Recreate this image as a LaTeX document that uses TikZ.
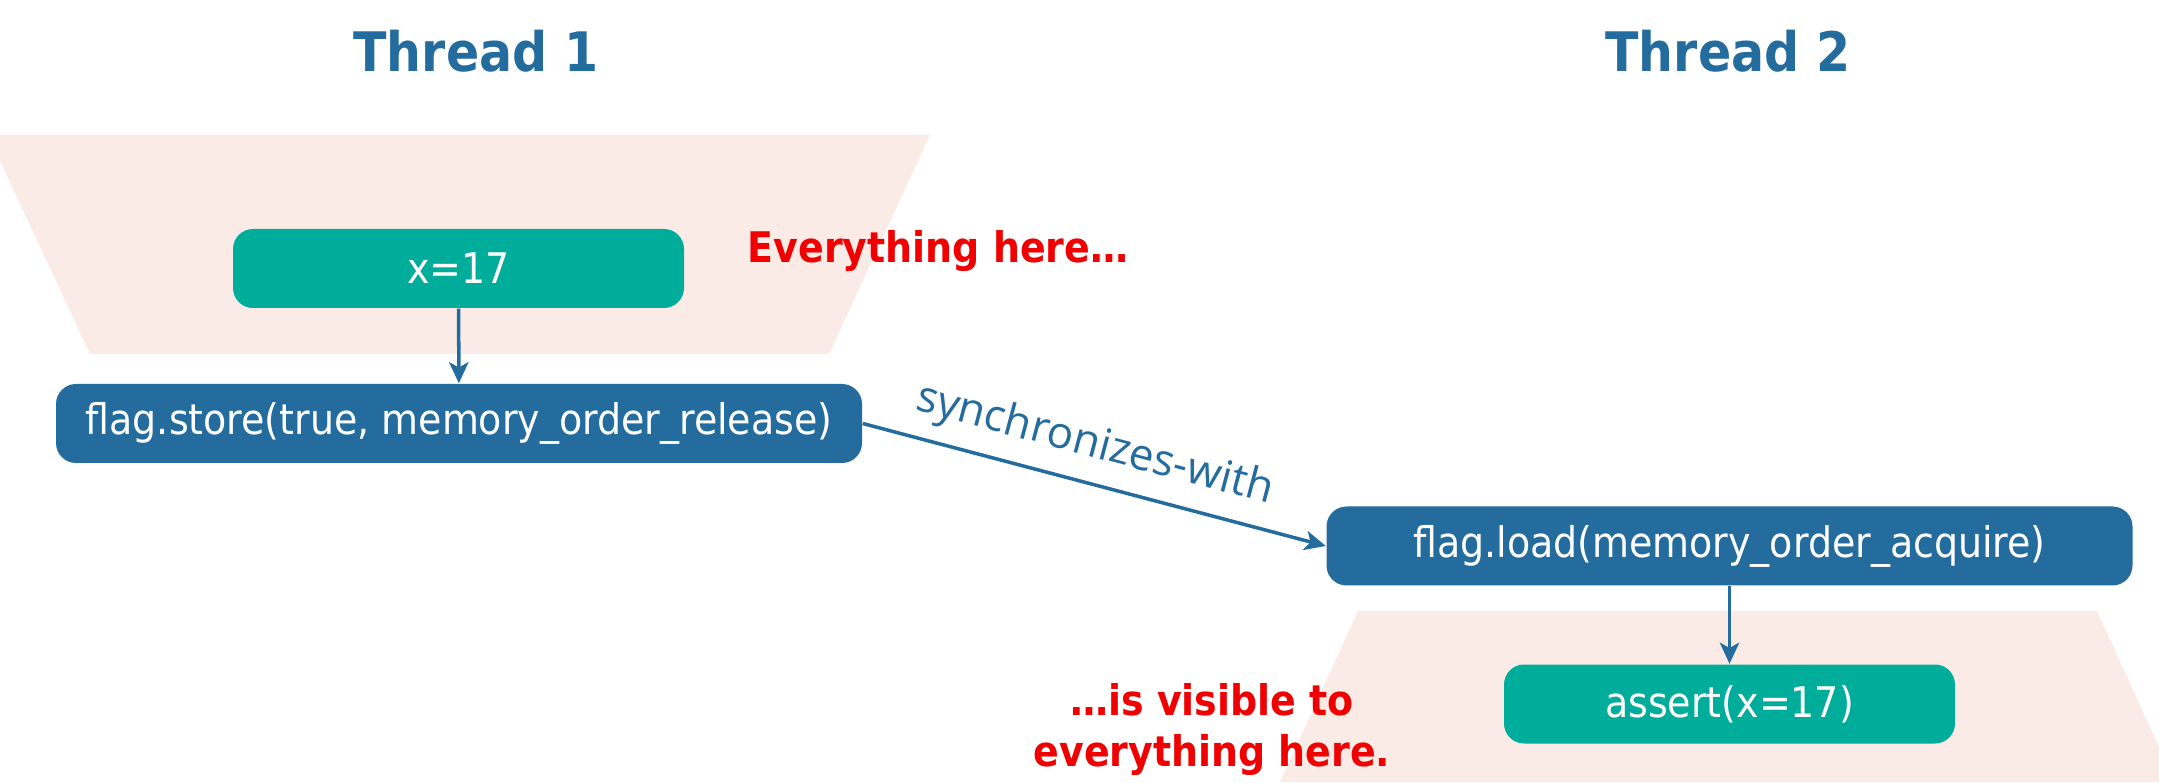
\documentclass[tikz,border=0pt]{standalone}
\usepackage{fontspec}
\setmainfont{DejaVu Sans Condensed}
\newfontfamily\labelfont{Open Sans}
\usetikzlibrary{arrows.meta}

\definecolor{threadblue}{RGB}{36,108,158}
\definecolor{opteal}{RGB}{0,173,155}
\definecolor{zonepink}{RGB}{251,235,230}
\definecolor{notered}{RGB}{240,0,0}

\begin{document}
\begin{tikzpicture}[
  opbox/.style={rounded corners=0.2cm, text=white, inner sep=0pt,
    minimum height=0.79cm, font=\fontsize{12}{14.5}\selectfont},
  storebox/.style={opbox, fill=threadblue, minimum width=8.06cm},
  valuebox/.style={opbox, fill=opteal, minimum width=4.51cm},
  flow/.style={draw=threadblue, line width=1pt,
    -{Stealth[length=6pt, width=5.5pt, inset=1.5pt]}},
  threadtitle/.style={text=threadblue, font=\fontsize{15.5}{18}\selectfont\bfseries},
  remark/.style={text=notered, align=center, font=\fontsize{12}{14.6}\selectfont\bfseries}
]
\useasboundingbox (0,0) rectangle (21.59,7.82);

% Visibility zones
\fill[zonepink] (-0.12,6.47) -- (9.30,6.47) -- (8.29,4.28) -- (0.90,4.28) -- cycle;
\fill[zonepink] (13.58,1.71) -- (20.97,1.71) -- (21.75,0) -- (12.80,0) -- cycle;

% Thread titles
\node[threadtitle] (t1) at (4.76,7.31) {Thread 1};
\node[threadtitle] (t2) at (17.28,7.31) {Thread 2};

% Thread 1
\node[valuebox] (write) at (4.585,5.135) {x=17};
\node[storebox] (store) at (4.59,3.585) {flag.store(true, memory\_order\_release)};

% Thread 2
\node[storebox] (load) at (17.295,2.36) {flag.load(memory\_order\_acquire)};
\node[valuebox] (check) at (17.295,0.78) {assert(x=17)};

% Arrows
\draw[flow] (write) -- (store);
\draw[flow] (load) -- (check);
\draw[flow] (store.east) -- node[pos=0.48, above, sloped, text=threadblue,
  font=\labelfont\fontsize{12.5}{15}\selectfont, inner sep=4pt] {synchronizes-with} (load.west);

% Remarks
\node[remark] (before) at (9.38,5.31) {Everything here…};
\node[remark] (after) at (12.12,0.525) {…is visible to\\everything here.};

\end{tikzpicture}
\end{document}
